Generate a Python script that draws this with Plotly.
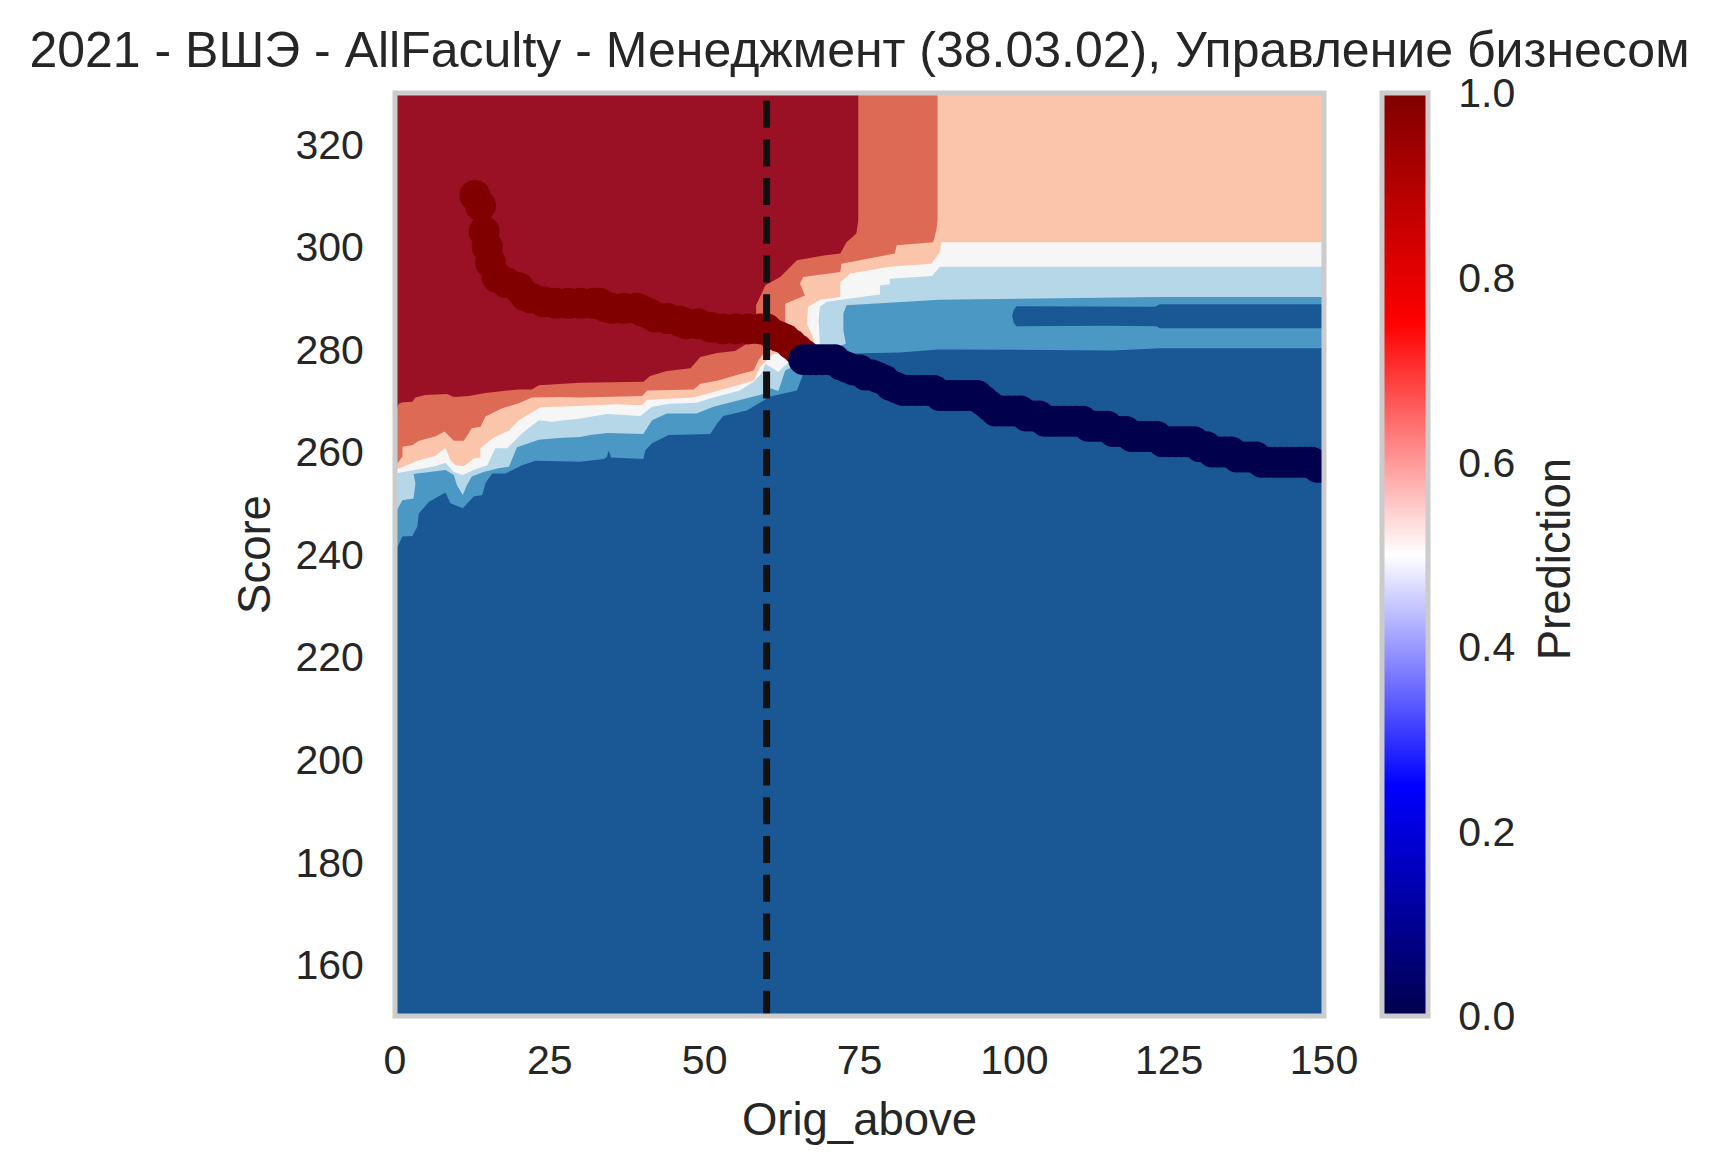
import plotly.graph_objects as go

# ---------- labels and axes ----------
title_text = "2021 - ВШЭ - AllFaculty - Менеджмент (38.03.02), Управление бизнесом"
x_label = "Orig_above"
y_label = "Score"
bar_label = "Prediction"
x_ticks = [0, 25, 50, 75, 100, 125, 150]
y_ticks = [160, 180, 200, 220, 240, 260, 280, 300, 320]
bar_ticks = [0.0, 0.2, 0.4, 0.6, 0.8, 1.0]
x_range = [0, 150]
y_range = [150, 330]
threshold = 60

# ---------- contour level boundaries (Orig_above, Score) ----------
b1_x = [0,0.6,1.3,2.8,3.3,4.9,8.4,9.5,11.9,14.6,20,22.1,23.2,26.4,29.9,40.1,41.2,43.9,47.7,49.3,52,54.9,56.8,58.4,58.4,58.3,59.8,62.2,64.9,69.2,71.9,72.9,74.5,74.8,74.8]
b1_y = [267.5,269.4,269.7,269.8,270.6,271.1,271.3,270.7,270.9,271.5,272.2,272.2,273,273.3,273.5,273.7,274.8,275.8,276.3,278.5,279.3,279.7,281.1,281.1,287.1,288.6,292.5,294.1,297.4,298.3,298.7,300.9,302.6,305.2,330]
b2_x = [0,1.2,1.2,2.8,3.85,6.5,8,9.5,11.1,12.4,13.8,14.6,17.3,20,22.1,26.4,29.9,39.9,40.7,48.2,49.3,52,55.2,57.9,58.7,59.5,61,63,63,65.4,66.2,65.4,65.9,71.9,72.1,80.7,81,86.9,87.4,87.6,87.6]
b2_y = [257.1,259.1,261,261.3,262.2,263,264,262.2,262.2,264.6,264.9,266.9,268.5,269.5,270.6,270.7,270.6,270.9,272,272.2,273.3,273.9,275,275.9,277.9,279.2,281,285.3,288.9,290.2,290.5,292.8,294.1,295.1,296.7,298.7,300.3,300.9,303.2,305.2,330]
b3_x = [0,3.85,6.5,8.15,8.95,9.8,11.1,12.7,13.8,13.8,15.7,18.4,20,22.1,23.5,26.4,29.9,32.6,35.3,39.9,40.7,48.2,51.4,57.9,59,60,61,65,67.7,66.5,66.7,68.6,71.9,71.9,73.5,79.9,86.6,88,88.2,150]
b3_y = [256.5,258.4,259.2,260.8,258.4,257.4,257.2,258.7,258.9,260.7,262.6,264.2,266.2,267.8,268.7,268.8,268.9,269.1,269.3,269.1,270.2,270.6,271.7,273.9,276.6,277.9,279,280,281.8,285,288.3,289.7,290.2,293.1,294.8,296.1,296.7,299,300.9,300.9]
b4_x = [0,6.5,8.15,9.5,10.95,12.7,14.9,16.2,18.1,20.5,23.2,25.3,29.9,34.2,39.6,41.5,44.4,48.7,51.4,55.7,57.9,59.2,59.8,60.6,61.9,62.7,65,68.6,68.4,68.6,69.7,73.5,78.3,78.3,79.9,79.9,86.7,88,150]
b4_y = [255.8,257.2,257.9,256.1,255.5,256.5,257.4,260.7,260.7,263.6,266.2,265.9,266.5,267.4,267,268.8,269.4,269.6,270.6,272,273.7,275.3,277.2,276.6,275.6,276.6,278.5,281.1,285.7,288.3,289.3,289.9,290.7,292.5,292.7,293.8,294.3,296.1,296.1]
b5_x = [0,1.2,3,3.3,3,8.15,9.5,10,10.95,11.6,12.4,14.3,16.7,18.4,19.7,23.2,26.4,29.9,31.5,34.2,40.1,41.5,43.9,48.7,51.4,55.7,59.5,60.6,61.9,63,68,72.8,72.4,72.4,72.9,87.9,99.8,123.5,150]
b5_y = [248,250.6,250.9,253.9,255.7,256.5,255.5,253.5,251.6,253.5,255.2,256.1,256.8,257.1,260.9,262.4,262.7,262.9,263.3,263.7,263.5,266.2,267.5,267.5,268.8,270.1,271.3,272.4,271.9,275.9,279,281.1,283.7,287,288.6,289.7,289.9,290.2,290.2]
b6_x = [0,1.2,2.8,3.6,3.85,5.5,8.15,8.95,10.95,12.7,14.1,14.6,15.7,17.8,20.5,22.7,29.9,33.7,34.2,34.5,34.9,40.1,40.4,41.5,44.2,50.9,52,53,56.8,60.6,64.9,65.7,66.5,74,81.5,87.7,115.9,123.5,150]
b6_y = [240.5,243.5,243.6,245.4,248,250.3,252.1,250,249,251.3,251.6,253.9,255.8,255.8,257.4,258.3,258.1,258.6,259,260.3,258.9,258.6,260.3,261.7,263.3,263.5,265.5,267,268.1,270.8,272,274.6,277,279.2,279.4,280,279.8,280.2,280.2]
island_x = [99.65,99.9,100.35,115.7,122.7,123.5,150,150,123.5,122.9,115,100.35,99.9]
island_y = [286.5,287.7,288.4,288.3,288.3,288.8,288.8,284.1,284.1,284.5,284.6,284.5,285.2]

level_colors = ["#195895", "#4b98c4", "#b5d7e8", "#f6f6f6", "#fbc5ab", "#dc6a54", "#9a1126"]

# ---------- point series ----------
red_x = [12.9,13.8,14.4,14.9,15.4,16.5,18,20,21,22,24,26,28,30,32,33,34,35,37,39,40,41,42,44,46,47,49,51,53,55,57,59,60,61,62,63,64,65,66]
red_y = [310,308,303,300,297,294,293,292,290.5,290,289.3,289,289,289,289,289,288.3,288,288,288,287.5,287,286.3,286,285.5,285,285,284.3,284,284,284,284,284,283,282.5,282,281,280,279]
navy_x = [66,67,68,69,70,71,72,73,74,75,76,77,78,79,80,81,82,83,84,85,86,87,88,89,90,91,92,93,94,95,96,97,98,99,100,101,102,103,104,105,106,107,108,109,110,111,112,113,114,115,116,117,118,119,120,121,122,123,124,125,126,127,128,129,130,131,132,133,134,135,136,137,138,139,140,141,142,143,144,145,146,147,148,149,150]
navy_y = [278,278,278,278,278,278,277,276.5,276,276,275,275,274.5,274,273,272.5,272,272,272,272,272,272,271,271,271,271,271,271,271,270,269,268,268,268,268,268,267,267,267,266,266,266,266,266,266,266,265,265,265,265,264,264,264,263,263,263,263,263,262,262,262,262,262,262,261,261,260,260,260,260,259,259,259,259,258,258,258,258,258,258,258,258,258,257,257]

# seismic colour ramp of the colour bar
seismic_stops = [0, 0.25, 0.5, 0.75, 1]
seismic_colors = ["#00004c", "#0000ff", "#ffffff", "#ff0000", "#800000"]

for a, b in [(b1_x,b1_y),(b2_x,b2_y),(b3_x,b3_y),(b4_x,b4_y),(b5_x,b5_y),(b6_x,b6_y),(island_x,island_y),(red_x,red_y),(navy_x,navy_y)]:
    assert len(a) == len(b), (len(a), len(b))

W, H = 1718, 1174
L, R, T, B = 394.5, 1324.5, 92.5, 1016.5
ink = "#262626"
grey = "#cccccc"
FONT = "Liberation Sans"
TICK = 41
LABEL = 45.5

fig = go.Figure()


def region(xs, ys, color):
    fig.add_trace(go.Scatter(x=xs, y=ys, mode="lines", fill="toself", fillcolor=color,
                             line=dict(width=0, color=color), hoverinfo="skip", showlegend=False))


# background level, then each level above it: boundary closed along the top edge
region([x_range[0], x_range[1], x_range[1], x_range[0]],
       [y_range[0], y_range[0], y_range[1], y_range[1]], level_colors[0])
bounds = [(b6_x, b6_y), (b5_x, b5_y), (b4_x, b4_y), (b3_x, b3_y), (b2_x, b2_y), (b1_x, b1_y)]
for (bx, by), col in zip(bounds, level_colors[1:]):
    xs = bx + ([x_range[1]] if by[-1] != y_range[1] else []) + [x_range[0]]
    ys = by + ([y_range[1]] if by[-1] != y_range[1] else []) + [y_range[1]]
    region(xs, ys, col)
region(island_x, island_y, level_colors[0])

fig.add_trace(go.Scatter(x=red_x, y=red_y, mode="markers", showlegend=False,
                         marker=dict(size=31, color="#800000", line=dict(width=0))))
fig.add_trace(go.Scatter(x=navy_x, y=navy_y, mode="markers", showlegend=False,
                         marker=dict(size=31, color="#00004c", line=dict(width=0))))
fig.add_trace(go.Scatter(x=[threshold, threshold], y=[328.5, y_range[0]], mode="lines", showlegend=False,
                         line=dict(color="#111111", width=7, dash="27px,11.7px")))

# colour bar
fig.add_trace(go.Scatter(
    x=[None], y=[None], mode="markers", showlegend=False,
    marker=dict(
        color=[0], cmin=0, cmax=1, size=0,
        colorscale=[[s, c] for s, c in zip(seismic_stops, seismic_colors)],
        showscale=True,
        colorbar=dict(
            x=(1382.5 - L) / (R - L), xanchor="left", xpad=0,
            y=1, yanchor="top", ypad=0, len=1, lenmode="fraction",
            thickness=46, thicknessmode="pixels",
            outlinewidth=5, outlinecolor=grey, borderwidth=0,
            ticks="outside", ticklen=20, tickcolor="rgba(0,0,0,0)",
            tickvals=bar_ticks, ticktext=[f"{v:.1f}" for v in bar_ticks],
            tickfont=dict(family=FONT, size=TICK, color=ink),
        ),
    ),
))

axis_common = dict(showgrid=False, zeroline=False, showline=False, ticks="outside",
                   tickcolor="rgba(0,0,0,0)", tickwidth=1,
                   tickfont=dict(family=FONT, size=TICK, color=ink), automargin=False)

fig.update_layout(
    width=W, height=H,
    margin=dict(l=L, r=W - R, t=T, b=H - B, pad=0, autoexpand=False),
    paper_bgcolor="white", plot_bgcolor="white",
    title=dict(text=title_text, x=(L + R) / 2 / W, xanchor="center", y=1 - 49 / H, yanchor="middle",
               font=dict(family=FONT, size=50, color=ink)),
    xaxis=dict(range=x_range, tickvals=x_ticks, ticklen=8,
               title=dict(text=x_label, standoff=20, font=dict(family=FONT, size=LABEL, color=ink)), **axis_common),
    yaxis=dict(range=y_range, tickvals=y_ticks, ticklen=22,
               title=dict(text=y_label, standoff=10, font=dict(family=FONT, size=LABEL, color=ink)), **axis_common),
    shapes=[dict(type="rect", xref="paper", yref="paper", x0=0, x1=1, y0=0, y1=1,
                 line=dict(color=grey, width=5), fillcolor="rgba(0,0,0,0)", layer="above")],
    annotations=[dict(text=bar_label, xref="paper", yref="paper", textangle=-90, showarrow=False,
                      x=(1556 - L) / (R - L), y=(B - 559) / (B - T), xanchor="center", yanchor="middle",
                      font=dict(family=FONT, size=LABEL, color=ink))],
    showlegend=False,
)

fig.write_html("out.html", config={"displayModeBar": False},
               post_script="document.body.style.margin='0';document.body.style.overflow='hidden';")
